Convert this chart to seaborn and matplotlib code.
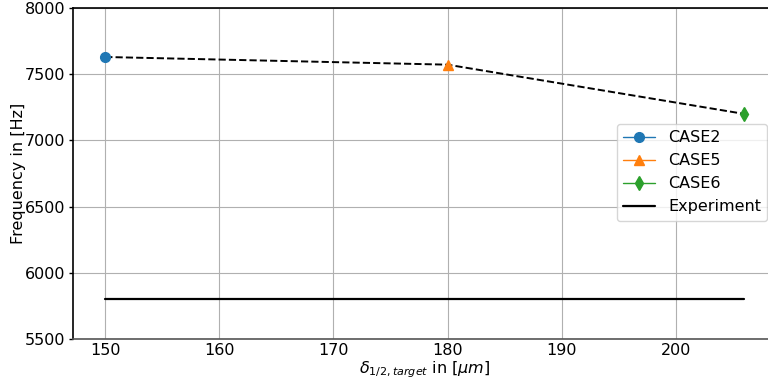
import matplotlib
matplotlib.use("Agg")
import matplotlib.pyplot as plt
import seaborn as sns
import pandas as pd

cases = ["CASE2", "CASE5", "CASE6"]
delta = [150, 180, 206]
freq = [7630, 7572, 7200]
markers = ["o", "^", "d"]
colors = ["#1f77b4", "#ff7f0e", "#2ca02c"]
exp_x = [150, 206]
exp_y = [5800, 5800]
yticks = [5500, 6000, 6500, 7000, 7500, 8000]
xticks = [150, 160, 170, 180, 190, 200]

sns.set_style("whitegrid", {"axes.edgecolor": "black", "grid.color": "#b0b0b0",
                            "xtick.bottom": False, "ytick.left": True,
                            "text.color": "black", "axes.labelcolor": "black",
                            "xtick.color": "black", "ytick.color": "black"})
plt.rcParams["font.family"] = ["DejaVu Sans"]
plt.rcParams["mathtext.fontset"] = "dejavusans"

fig = plt.figure(figsize=(7.68, 3.82), dpi=100)
ax_w = 702.9
ax = fig.add_axes([73.3/768, 43/382, ax_w/768, 331/382])

df = pd.DataFrame({"delta": delta, "freq": freq})
sns.lineplot(data=df, x="delta", y="freq", ax=ax, color="black", linestyle="--",
             linewidth=1.4, legend=False, zorder=2)
for c, x, y, m, col in zip(cases, delta, freq, markers, colors):
    ax.plot([x], [y], marker=m, color=col, markersize=7, linewidth=1, label=c, zorder=3)
exp_df = pd.DataFrame({"x": exp_x, "y": exp_y})
sns.lineplot(data=exp_df, x="x", y="y", ax=ax, color="black", linewidth=1.6,
             label="Experiment", zorder=2)

ax.set_xlim(147.2, 208.8)
ax.set_ylim(5500, 8000)
ax.set_xticks(xticks)
ax.set_yticks(yticks)
ax.tick_params(axis="y", labelsize=11.5, length=3, width=1, color="black", pad=2.5,
               labelcolor="black")
ax.tick_params(axis="x", labelsize=11.5, length=0, pad=3, labelcolor="black")
for s in ["left", "bottom", "top"]:
    ax.spines[s].set_color("black")
    ax.spines[s].set_linewidth(1.2)
ax.spines["bottom"].set_color("#555555")
ax.set_xlabel(r"$\delta_{1/2,target}$ in [$\mu m$]", fontsize=11.5, labelpad=1,
              color="black")
ax.set_ylabel("Frequency in [Hz]", fontsize=11.5, labelpad=-1, color="black")
leg = ax.legend(loc="upper left", bbox_to_anchor=((617-73.3)/ax_w, 1 - 116/331),
                fontsize=11.5, frameon=True, borderpad=0.4, handlelength=2.0,
                borderaxespad=0)
for t in leg.get_texts():
    t.set_color("black")

fig.savefig("out.png", dpi=100)
